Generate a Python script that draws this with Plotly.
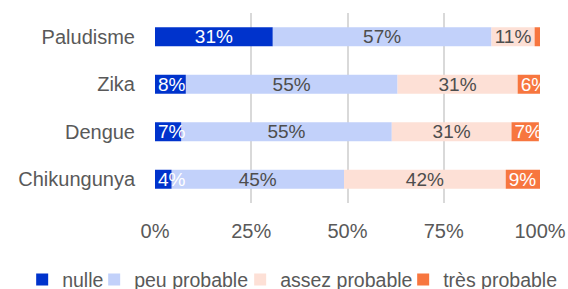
import plotly.graph_objects as go

# ---- data ----
categories = ["Paludisme", "Zika", "Dengue", "Chikungunya"]
nulle = [30.6, 8.0, 6.8, 4.3]
peu_probable = [56.8, 55.0, 54.7, 44.8]
assez_probable = [11.2, 31.2, 31.1, 42.0]
tres_probable = [1.4, 5.8, 7.1, 8.9]
series_names = ["nulle", "peu probable", "assez probable", "très probable"]
x_ticks = [0, 25, 50, 75, 100]
x_tick_labels = ["0%", "25%", "50%", "75%", "100%"]

# ---- styles ----
colors = ["#0033CC", "#C2D1FA", "#FDE0D6", "#F7763F"]
text_colors = ["#FFFFFF", "#4D4D4D", "#4D4D4D", "#FFFFFF"]
legend_widths = [27, 101, 118, 115]
FONT = "Liberation Sans, Arial, sans-serif"
GRAY = "#595959"

all_series = [nulle, peu_probable, assez_probable, tres_probable]

# stacked bases computed from the data
bases = []
running = [0.0] * len(categories)
for vals in all_series:
    bases.append(list(running))
    running = [r + v for r, v in zip(running, vals)]

fig = go.Figure()
# wide segments (label centred) first, narrow segments (label anchored at
# segment start, allowed to overflow) drawn last so their text stays on top
for anchor, keep in (("middle", lambda v: v >= 10), ("start", lambda v: v < 10)):
    for s_idx, (name, vals) in enumerate(zip(series_names, all_series)):
        idx = [i for i, v in enumerate(vals) if keep(v)]
        if not idx:
            continue
        xs = [vals[i] for i in idx]
        txt = [f"{round(v)}%" if v >= 2 else "" for v in xs]
        first = not any(t.name == name for t in fig.data)
        fig.add_trace(go.Bar(
            x=xs, y=[categories[i] for i in idx], base=[bases[s_idx][i] for i in idx],
            name=name, orientation="h", legendrank=s_idx + 1,
            marker=dict(color=colors[s_idx], line=dict(width=0)),
            text=txt, textposition="inside", insidetextanchor=anchor,
            constraintext="none", textangle=0,
            textfont=dict(family=FONT, size=19, color=text_colors[s_idx]),
            showlegend=first, legendwidth=legend_widths[s_idx],
            hoverinfo="skip",
        ))

fig.update_layout(
    width=568, height=289,
    barmode="overlay", bargap=0.6,
    margin=dict(l=155, r=28, t=13, b=86, autoexpand=False),
    paper_bgcolor="white", plot_bgcolor="white",
    font=dict(family=FONT, size=20, color=GRAY),
    showlegend=True,
    legend=dict(
        orientation="h", x=-0.345, xanchor="left", y=-0.404, yanchor="middle",
        font=dict(family=FONT, size=19.5, color=GRAY),
        traceorder="normal", itemclick=False, itemdoubleclick=False,
    ),
)
fig.update_xaxes(
    range=[0, 100], tickvals=x_ticks, ticktext=x_tick_labels,
    showgrid=True, gridcolor="#D9D9D9", gridwidth=2,
    zeroline=False, showline=False, ticks="",
    ticklabelstandoff=14, fixedrange=True,
)
fig.update_yaxes(
    categoryorder="array", categoryarray=categories, autorange="reversed",
    showgrid=False, zeroline=False, showline=False, ticks="",
    ticklabelstandoff=19, fixedrange=True,
)
fig.write_html(
    "out.html", config={"displayModeBar": False},
    post_script="document.body.style.margin='0';document.body.style.overflow='hidden';",
)
